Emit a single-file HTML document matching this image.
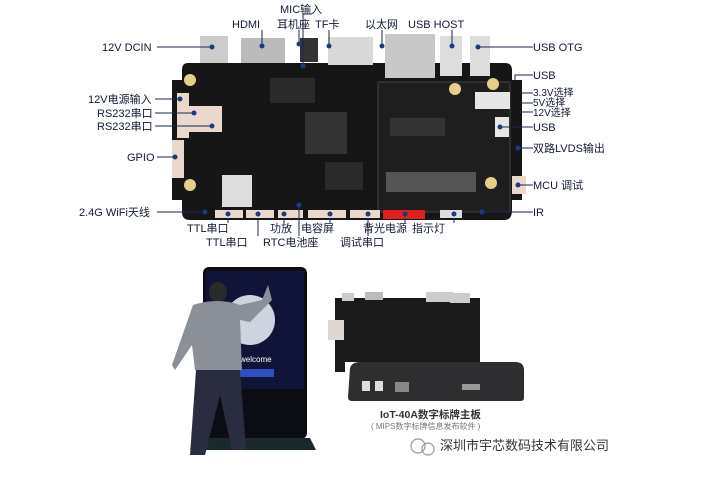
<!DOCTYPE html>
<html><head><meta charset="utf-8"><style>
html,body{margin:0;padding:0;background:#fff;}
svg{display:block;}
text{font-family:"Liberation Sans","Noto Sans CJK SC",sans-serif;font-size:11px;fill:#111a30;}
</style></head><body>
<svg width="714" height="481" viewBox="0 0 714 481" xmlns="http://www.w3.org/2000/svg">
<rect width="714" height="481" fill="#fff"/>
<path d="M188 63 H505 Q512 63 512 70 V80 H522 V200 H512 V210 Q512 220 505 220 H190 Q182 220 182 212 V200 H172 V80 H182 V70 Q182 63 188 63 Z" fill="#161616"/>
<rect x="378" y="82" width="132" height="130" fill="#1e1e1e" stroke="#555" stroke-width="0.7"/>
<rect x="270" y="78" width="45" height="25" fill="#2a2a2a"/>
<rect x="305" y="112" width="42" height="42" fill="#333"/>
<rect x="325" y="162" width="38" height="28" fill="#2a2a2a"/>
<rect x="222" y="175" width="30" height="32" fill="#ddd"/>
<rect x="386" y="172" width="90" height="20" fill="#555"/>
<rect x="390" y="118" width="55" height="18" fill="#333"/>
<circle cx="190" cy="80" r="6" fill="#e6cf8a"/><circle cx="190" cy="185" r="6" fill="#e6cf8a"/>
<circle cx="493" cy="84" r="6" fill="#e6cf8a"/><circle cx="491" cy="183" r="6" fill="#e6cf8a"/><circle cx="455" cy="89" r="6" fill="#e6cf8a"/>
<rect x="200" y="36" width="28" height="27" fill="#ccc"/>
<rect x="241" y="38" width="44" height="25" fill="#bbb"/>
<rect x="300" y="38" width="18" height="24" fill="#333"/>
<rect x="328" y="37" width="45" height="28" fill="#d8d8d8"/>
<rect x="385" y="34" width="50" height="44" fill="#c8c8c8"/>
<rect x="440" y="36" width="22" height="40" fill="#ddd"/>
<rect x="470" y="36" width="20" height="40" fill="#ddd"/>
<rect x="177" y="93" width="12" height="45" fill="#ead8cc"/>
<rect x="188" y="106" width="17" height="26" fill="#ead8cc"/>
<rect x="205" y="106" width="17" height="26" fill="#ead8cc"/>
<rect x="172" y="140" width="12" height="38" fill="#ead8cc"/>
<rect x="475" y="92" width="35" height="17" fill="#e6e6e6"/>
<rect x="495" y="117" width="14" height="20" fill="#e6e6e6"/>
<rect x="512" y="176" width="14" height="18" fill="#ead8cc"/>
<rect x="215" y="210" width="28" height="8" fill="#ead8cc"/>
<rect x="246" y="210" width="28" height="8" fill="#ead8cc"/>
<rect x="278" y="210" width="25" height="8" fill="#ead8cc"/>
<rect x="308" y="210" width="38" height="8" fill="#ead8cc"/>
<rect x="350" y="210" width="30" height="8" fill="#ead8cc"/>
<rect x="383" y="210" width="42" height="9" fill="#e02020"/>
<rect x="440" y="210" width="22" height="8" fill="#ddd"/>
<g stroke="#1a2a4a" stroke-width="1" fill="none">
<path d="M157 47 H212"/><path d="M262 30 V46"/><path d="M299 30 V44"/><path d="M303 14 V66 M303 14 H312"/>
<path d="M329 30 V46"/><path d="M382 30 V46"/><path d="M452 30 V46"/><path d="M533 47 H478"/>
<path d="M533 75 H515 V80"/><path d="M533 93 H520"/><path d="M533 103 H520"/><path d="M533 112 H520"/>
<path d="M533 127 H500"/><path d="M533 148 H518"/><path d="M533 185 H518"/><path d="M533 212 H482"/>
<path d="M155 99 H180"/><path d="M155 113 H194"/><path d="M155 126 H212"/><path d="M157 157 H175"/><path d="M157 212 H205"/>
<path d="M228 218 V223"/><path d="M258 218 V236"/><path d="M284 218 V223"/><path d="M299 205 V236"/>
<path d="M330 218 V223"/><path d="M368 218 V236"/><path d="M405 218 V223"/><path d="M454 218 V223"/>
</g>
<g fill="#1a3a80">
<circle cx="212" cy="47" r="2.5"/><circle cx="262" cy="46" r="2.5"/><circle cx="299" cy="44" r="2.5"/><circle cx="303" cy="66" r="2.5"/>
<circle cx="329" cy="46" r="2.5"/><circle cx="382" cy="46" r="2.5"/><circle cx="452" cy="46" r="2.5"/><circle cx="478" cy="47" r="2.5"/>
<circle cx="500" cy="127" r="2.5"/><circle cx="518" cy="148" r="2.5"/><circle cx="518" cy="185" r="2.5"/><circle cx="482" cy="212" r="2.5"/>
<circle cx="180" cy="99" r="2.5"/><circle cx="194" cy="113" r="2.5"/><circle cx="212" cy="126" r="2.5"/><circle cx="175" cy="157" r="2.5"/><circle cx="205" cy="212" r="2.5"/>
<circle cx="228" cy="214" r="2.5"/><circle cx="258" cy="214" r="2.5"/><circle cx="284" cy="214" r="2.5"/><circle cx="299" cy="205" r="2.5"/>
<circle cx="330" cy="214" r="2.5"/><circle cx="368" cy="214" r="2.5"/><circle cx="405" cy="214" r="2.5"/><circle cx="454" cy="214" r="2.5"/>
</g>
<text x="102" y="51">12V DCIN</text>
<text x="232" y="28">HDMI</text>
<text x="280" y="13">MIC输入</text>
<text x="277" y="28">耳机座</text>
<text x="315" y="28">TF卡</text>
<text x="365" y="28">以太网</text>
<text x="408" y="28">USB HOST</text>
<text x="533" y="51">USB OTG</text>
<text x="533" y="79">USB</text>
<text x="533" y="96" style="font-size:10px">3.3V选择</text>
<text x="533" y="106" style="font-size:10px">5V选择</text>
<text x="533" y="116" style="font-size:10px">12V选择</text>
<text x="533" y="131">USB</text>
<text x="533" y="152">双路LVDS输出</text>
<text x="533" y="189">MCU 调试</text>
<text x="533" y="216">IR</text>
<text x="88" y="103">12V电源输入</text>
<text x="97" y="117">RS232串口</text>
<text x="97" y="130">RS232串口</text>
<text x="127" y="161">GPIO</text>
<text x="79" y="216">2.4G WiFi天线</text>
<text x="187" y="232">TTL串口</text>
<text x="206" y="246">TTL串口</text>
<text x="270" y="232">功放</text>
<text x="263" y="246">RTC电池座</text>
<text x="301" y="232">电容屏</text>
<text x="340" y="246">调试串口</text>
<text x="363" y="232">背光电源</text>
<text x="412" y="232">指示灯</text>
<rect x="203" y="267" width="104" height="172" rx="6" fill="#0c0c14"/>
<rect x="206" y="271" width="98" height="118" fill="#101438"/>
<circle cx="250" cy="320" r="25" fill="#cfd3e0"/>
<text x="240" y="362" style="font-size:8px;fill:#fff">welcome</text>
<rect x="238" y="369" width="36" height="8" fill="#3050c0"/>
<path d="M193 450 L200 438 H310 L316 450 Z" fill="#1a2a2a"/>
<ellipse cx="218" cy="292" rx="9" ry="10" fill="#2a2a2a"/>
<path d="M193 305 Q218 297 240 305 L262 300 L268 285 L272 300 L250 322 L240 320 L242 370 L195 370 L192 345 L175 370 L172 365 Z" fill="#8a8f98"/>
<path d="M196 370 H240 L246 450 H232 L220 395 L205 455 H190 Z" fill="#2a2d40"/>
<path d="M335 298 H480 V362 H345 V372 H335 Z" fill="#1a1a1a"/>
<rect x="342" y="293" width="12" height="8" fill="#ccc"/><rect x="365" y="292" width="18" height="8" fill="#bbb"/><rect x="426" y="292" width="28" height="10" fill="#ccc"/><rect x="450" y="293" width="20" height="10" fill="#ccc"/>
<rect x="328" y="320" width="16" height="20" fill="#e0d8d0"/>
<path d="M350 368 Q352 362 360 362 H515 Q524 362 524 370 V398 Q524 401 520 401 H352 Q348 401 348 397 Z" fill="#2e2e30"/>
<rect x="362" y="381" width="8" height="10" fill="#ddd"/><rect x="375" y="381" width="8" height="10" fill="#ddd"/><rect x="395" y="382" width="14" height="10" fill="#888"/>
<rect x="462" y="384" width="18" height="6" fill="#999"/>
<text x="380" y="418" style="font-size:10.5px;fill:#333;font-weight:bold">IoT-40A数字标牌主板</text>
<text x="371" y="429" style="font-size:8px;fill:#777">( MIPS数字标牌信息发布软件 )</text>
<circle cx="418" cy="446" r="7" fill="none" stroke="#999" stroke-width="1.2"/>
<circle cx="428" cy="449" r="6" fill="none" stroke="#999" stroke-width="1.2"/>
<text x="440" y="450" style="font-size:13px;fill:#333">深圳市宇芯数码技术有限公司</text>
</svg>
</body></html>
